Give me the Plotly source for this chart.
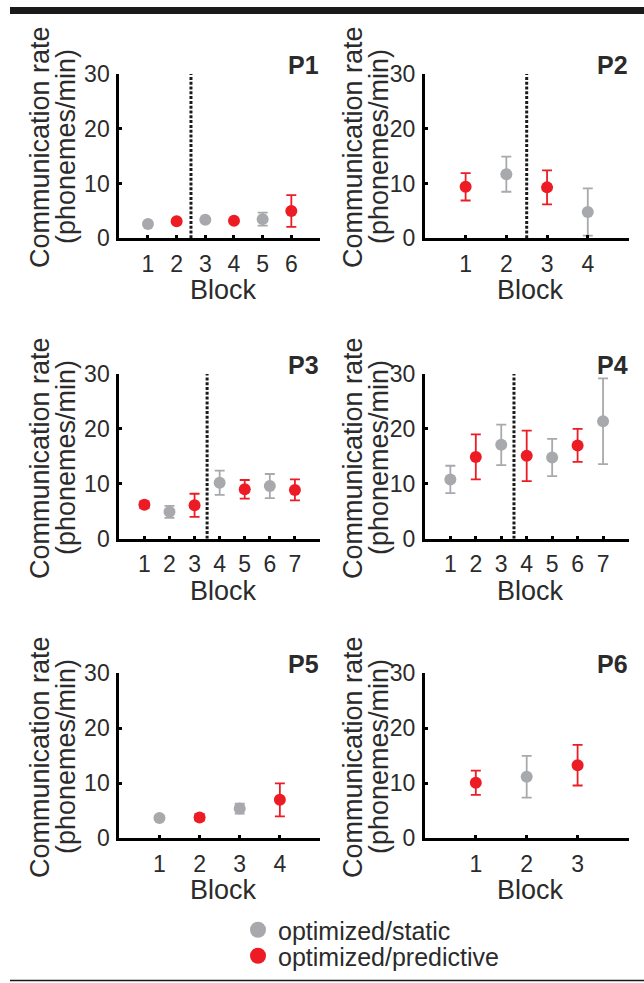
import plotly.graph_objects as go

# ---------------- data ----------------
panels = ["P1", "P2", "P3", "P4", "P5", "P6"]

p1_blocks = [1, 2, 3, 4, 5, 6]
p1_cond = ["S", "P", "S", "P", "S", "P"]
p1_rate = [2.6, 3.1, 3.4, 3.2, 3.5, 5.0]
p1_err = [0.3, 0.3, 0.3, 0.3, 1.2, 2.9]

p2_blocks = [1, 2, 3, 4]
p2_cond = ["P", "S", "P", "S"]
p2_rate = [9.4, 11.7, 9.3, 4.8]
p2_err = [2.5, 3.2, 3.1, 4.3]

p3_blocks = [1, 2, 3, 4, 5, 6, 7]
p3_cond = ["P", "S", "P", "S", "P", "S", "P"]
p3_rate = [6.2, 4.9, 6.1, 10.2, 9.0, 9.6, 8.9]
p3_err = [0.6, 1.1, 2.1, 2.2, 1.7, 2.2, 1.9]

p4_blocks = [1, 2, 3, 4, 5, 6, 7]
p4_cond = ["S", "P", "S", "P", "S", "P", "S"]
p4_rate = [10.8, 14.9, 17.1, 15.1, 14.8, 17.0, 21.4]
p4_err = [2.5, 4.1, 3.7, 4.6, 3.4, 3.0, 7.8]

p5_blocks = [1, 2, 3, 4]
p5_cond = ["S", "P", "S", "P"]
p5_rate = [3.7, 3.8, 5.4, 7.0]
p5_err = [0.4, 0.6, 0.9, 3.0]

p6_blocks = [1, 2, 3]
p6_cond = ["P", "S", "P"]
p6_rate = [10.1, 11.2, 13.3]
p6_err = [2.2, 3.8, 3.7]

switch_line = [2.5, 2.5, 3.5, 3.5, None, None]
x_max = [7, 5, 8, 8, 5, 4]
y_ticks = [0, 10, 20, 30]

cond_names = {"S": "optimized/static", "P": "optimized/predictive"}

# ---------------- style ----------------
W, H = 644, 983
GREY = "#a7a9ac"
RED = "#ed1c24"
TXT = "#2b2b2b"
FONT = "Liberation Sans, Arial, sans-serif"
cond_colors = {"S": GREY, "P": RED}

col_px = [(119.3, 320.0), (424.9, 628.5)]
row_px = [(74.0, 238.3), (374.0, 538.8), (673.3, 838.3)]

def px_x(p):
    return p / W

def px_y(p):
    return 1 - p / H

data = [
    (p1_blocks, p1_cond, p1_rate, p1_err),
    (p2_blocks, p2_cond, p2_rate, p2_err),
    (p3_blocks, p3_cond, p3_rate, p3_err),
    (p4_blocks, p4_cond, p4_rate, p4_err),
    (p5_blocks, p5_cond, p5_rate, p5_err),
    (p6_blocks, p6_cond, p6_rate, p6_err),
]

fig = go.Figure()
annotations = []
shapes = []

ytitle_y = [147, 458, 757]
ytitle_x = [(40, 66), (353, 379)]

for i, (blocks, conds, rates, errs) in enumerate(data):
    r, c = divmod(i, 2)
    ax = "" if i == 0 else str(i + 1)
    xa, ya = "x" + ax, "y" + ax
    x0, x1 = col_px[c]
    top, bot = row_px[r]

    for key in ["S", "P"]:
        xs = [b for b, k in zip(blocks, conds) if k == key]
        ys = [v for v, k in zip(rates, conds) if k == key]
        es = [e for e, k in zip(errs, conds) if k == key]
        fig.add_trace(go.Scatter(
            x=xs, y=ys, xaxis=xa, yaxis=ya, mode="markers",
            marker=dict(color=cond_colors[key], size=12, line=dict(width=0)),
            error_y=dict(type="data", array=es, visible=True,
                         color=cond_colors[key], thickness=1.8, width=5),
            cliponaxis=False, showlegend=False, hoverinfo="skip",
        ))

    fig.layout["xaxis" + ax] = dict(
        domain=[px_x(x0), px_x(x1)], anchor=ya, range=[0, x_max[i]],
        tickvals=blocks, ticktext=[str(b) for b in blocks],
        showline=True, linecolor="black", linewidth=3,
        ticks="inside", ticklen=3, tickwidth=3, tickcolor="black",
        showgrid=False, zeroline=False, automargin=False,
        tickfont=dict(family=FONT, size=23, color=TXT),
        ticklabelstandoff=3,
    )
    fig.layout["yaxis" + ax] = dict(
        domain=[px_y(bot), px_y(top)], anchor=xa, range=[0, 30],
        tickvals=y_ticks,
        showline=True, linecolor="black", linewidth=3,
        ticks="inside", ticklen=3, tickwidth=3, tickcolor="black",
        showgrid=False, zeroline=False, automargin=False,
        tickfont=dict(family=FONT, size=23, color=TXT),
        ticklabelstandoff=2,
    )

    if switch_line[i] is not None:
        shapes.append(dict(type="line", xref=xa, yref=ya,
                           x0=switch_line[i], x1=switch_line[i], y0=0, y1=30,
                           line=dict(color="#1a1a1a", width=3, dash="3px,1.8px")))

    # panel label (sits just above the top of the axis)
    annotations.append(dict(text="<b>%s</b>" % panels[i], xref="paper", yref="paper",
                            x=px_x(x1 + 1), y=px_y(top - 9), xanchor="right", yanchor="middle",
                            showarrow=False, font=dict(family=FONT, size=25, color=TXT)))
    # x title
    annotations.append(dict(text="Block", xref="paper", yref="paper",
                            x=px_x((x0 + x1) / 2 + 4), y=px_y(bot + 52),
                            xanchor="center", yanchor="middle",
                            showarrow=False, font=dict(family=FONT, size=27, color=TXT)))
    # y title (two lines)
    lx1, lx2 = ytitle_x[c]
    annotations.append(dict(text="Communication rate", xref="paper", yref="paper",
                            x=px_x(lx1), y=px_y(ytitle_y[r]), textangle=-90,
                            xanchor="center", yanchor="middle",
                            showarrow=False, font=dict(family=FONT, size=27, color=TXT)))
    annotations.append(dict(text="(phonemes/min)", xref="paper", yref="paper",
                            x=px_x(lx2), y=px_y(ytitle_y[r]), textangle=-90,
                            xanchor="center", yanchor="middle",
                            showarrow=False, font=dict(family=FONT, size=27, color=TXT)))

# legend entries (legend-only traces)
for key, leg in [("S", "legend"), ("P", "legend2")]:
    fig.add_trace(go.Scatter(
        x=[None], y=[None], mode="markers", name=cond_names[key],
        marker=dict(color=cond_colors[key], size=19), legend=leg, showlegend=True,
    ))

legend_style = dict(xanchor="left", yanchor="middle", bgcolor="rgba(0,0,0,0)",
                    font=dict(family=FONT, size=25, color=TXT), itemsizing="trace",
                    borderwidth=0)
fig.update_layout(
    legend=dict(x=px_x(238), y=px_y(930), **legend_style),
    legend2=dict(x=px_x(238), y=px_y(956), **legend_style),
)

# top bar and bottom rule
shapes.append(dict(type="rect", xref="paper", yref="paper",
                   x0=px_x(10), x1=1, y0=px_y(14), y1=px_y(7),
                   fillcolor="#1a1a1a", line=dict(width=0)))
shapes.append(dict(type="line", xref="paper", yref="paper",
                   x0=px_x(10), x1=1, y0=px_y(980.5), y1=px_y(980.5),
                   line=dict(color="#1a1a1a", width=1.5)))

fig.update_layout(
    template="none",
    width=W, height=H, margin=dict(l=0, r=0, t=0, b=0, autoexpand=False),
    paper_bgcolor="white", plot_bgcolor="white",
    annotations=annotations, shapes=shapes,
    font=dict(family=FONT, color=TXT),
)

fig.write_html("out.html",
               config={"displayModeBar": False},
               post_script="document.body.style.margin='0px';document.body.style.overflow='hidden';")
